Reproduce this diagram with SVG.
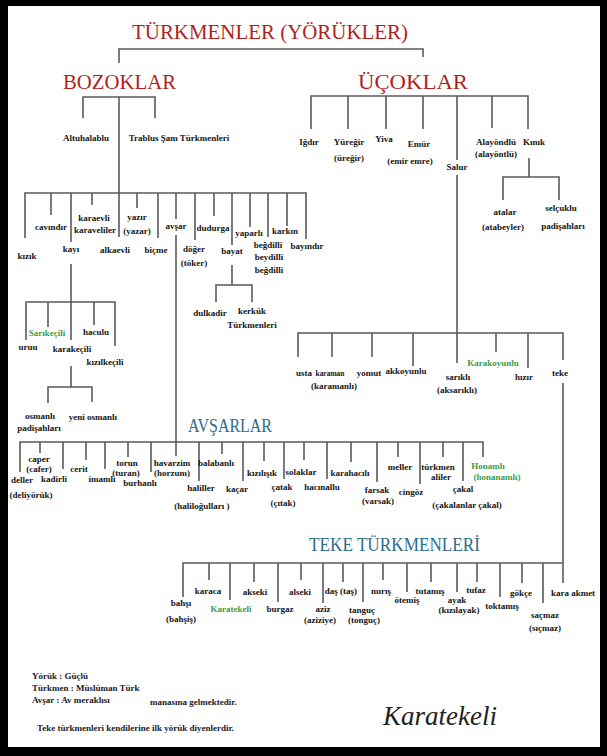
<svg xmlns="http://www.w3.org/2000/svg" width="607" height="756" viewBox="0 0 607 756">
<style>
.t{font-family:"Liberation Serif","Times New Roman",serif;font-weight:bold;font-size:9px;fill:#151515;text-anchor:middle}
.g{fill:#3d9b47}
.h1{font-family:"Liberation Serif","Times New Roman",serif;fill:#b11f1d;text-anchor:middle}
.h2{font-family:"Liberation Serif","Times New Roman",serif;fill:#2d6c8a;text-anchor:middle}
.n{font-family:"Liberation Serif","Times New Roman",serif;font-weight:bold;font-size:9px;fill:#1a1a2a}
.c path{fill:none;stroke:#5a5a5a;stroke-width:1.6}
</style>
<rect x="0" y="0" width="607" height="756" fill="#000"/>
<rect x="8" y="6" width="592" height="741" fill="#fff"/>

<g class="c" id="connectors">
<path d="M119,63 V49 H423 V57"/>
<path d="M83,118 V97 H155 V118"/>
<path d="M119,97 V237"/>
<path d="M311,129 V96 H528 V129 M348,96 V129 M386,96 V129 M423,96 V129 M457,96 V160 M492,96 V128"/>
<path d="M457,175 V363"/>
<path d="M529,158 V177 M503,200 V177 H559 V200"/>
<path d="M25,238 V193 H306 V239 M51,193 V215 M71,193 V242 M92,193 V205 M137,193 V208 M158,193 V238 M176,193 V219 M195,193 V240 M214,193 V216 M232,193 V245 M250,193 V227 M268,193 V237 M287,193 V226"/>
<path d="M176,235 V456"/>
<path d="M71,264 V340 M26,340 V302 H115 V346 M48,302 V327 M94,302 V325"/>
<path d="M71,366 V387 M48,403 V387 H92 V402"/>
<path d="M232,265 V285 M216,302 V285 H252 V302"/>
<path d="M298,357 V333 H563 V360 M332,333 V357 M372,333 V357 M413,333 V366 M496,333 V352 M528,333 V368"/>
<path d="M563,383 V583"/>
<path d="M20,472 V442 H483 V457 M40,442 V453 M63,442 V469 M86,442 V460 M105,442 V469 M128,442 V457 M151,442 V472 M199,442 V481 M222,442 V454 M243,442 V481 M264,442 V461 M284,442 V479 M304,442 V460 M327,442 V479 M351,442 V462 M377,442 V482 M398,442 V457 M420,442 V484 M443,442 V457 M463,442 V481"/>
<path d="M183,597 V563 H563 M209,563 V580 M230,563 V600 M254,563 V582 M278,563 V602 M301,563 V580 M323,563 V603 M343,563 V582 M363,563 V602 M383,563 V580 M407,563 V592 M431,563 V582 M457,563 V592 M477,563 V582 M500,563 V597 M522,563 V583 M543,563 V603"/>
</g>

<g id="root"><text class="h1" x="270" y="39" font-size="22" textLength="276" lengthAdjust="spacingAndGlyphs">TÜRKMENLER (YÖRÜKLER)</text></g>
<g id="bozoklar"><text class="h1" x="119.5" y="89" font-size="21" textLength="113" lengthAdjust="spacingAndGlyphs">BOZOKLAR</text></g>
<g id="ucoklar"><text class="h1" x="413" y="89" font-size="21" textLength="110" lengthAdjust="spacingAndGlyphs">ÜÇOKLAR</text></g>

<g id="altuhalablu"><text class="t" x="86" y="141">Altuhalablu</text></g>
<g id="trablus"><text class="t" x="179" y="141">Trablus Şam Türkmenleri</text></g>

<g id="kizik"><text class="t" x="27" y="259">kızık</text></g>
<g id="cavindir"><text class="t" x="51" y="230">cavındır</text></g>
<g id="kayi"><text class="t" x="71" y="252">kayı</text></g>
<g id="karaevli"><text class="t" x="94" y="221">karaevli</text><text class="t" x="95" y="233">karaveliler</text></g>
<g id="alkaevli"><text class="t" x="115" y="253">alkaevli</text></g>
<g id="yazir"><text class="t" x="137" y="220">yazır</text><text class="t" x="137" y="234">(yazar)</text></g>
<g id="bicme"><text class="t" x="156" y="253">biçme</text></g>
<g id="avsar"><text class="t" x="176" y="229">avşar</text></g>
<g id="doger"><text class="t" x="194" y="252">döğer</text><text class="t" x="194" y="266">(töker)</text></g>
<g id="dudurga"><text class="t" x="213" y="231">dudurga</text></g>
<g id="bayat"><text class="t" x="232" y="254">bayat</text></g>
<g id="yaparli"><text class="t" x="249" y="236">yaparlı</text></g>
<g id="begdilli"><text class="t" x="268" y="248">beğdilli</text><text class="t" x="269" y="260">beydilli</text><text class="t" x="269" y="273">beğdilli</text></g>
<g id="karkin"><text class="t" x="285" y="234">karkın</text></g>
<g id="bayindir"><text class="t" x="307" y="249">bayındır</text></g>

<g id="uruu"><text class="t" x="28" y="350">uruu</text></g>
<g id="sarikecili"><text class="t g" x="47" y="336">Sarıkeçili</text></g>
<g id="karakecili"><text class="t" x="72" y="352">karakeçili</text></g>
<g id="haculu"><text class="t" x="96" y="335">haculu</text></g>
<g id="kizilkecili"><text class="t" x="105" y="365">kızılkeçili</text></g>
<g id="osmanli"><text class="t" x="40" y="419">osmanlı</text><text class="t" x="39" y="431">padişahları</text></g>
<g id="yeniosmanli"><text class="t" x="93" y="420">yeni osmanlı</text></g>

<g id="dulkadir"><text class="t" x="210" y="316">dulkadir</text></g>
<g id="kerkuk"><text class="t" x="252" y="314">kerkük</text><text class="t" x="252" y="328">Türkmenleri</text></g>

<g id="igdir"><text class="t" x="309" y="145">Iğdır</text></g>
<g id="yuregir"><text class="t" x="349" y="145">Yüreğir</text><text class="t" x="349" y="161">(üreğir)</text></g>
<g id="yiva"><text class="t" x="384" y="142">Yiva</text></g>
<g id="emur"><text class="t" x="419" y="147">Emür</text><text class="t" x="410" y="164">(emir emre)</text></g>
<g id="salur"><text class="t" x="457" y="170">Salur</text></g>
<g id="alayondlu"><text class="t" x="496" y="145">Alayöndlü</text><text class="t" x="496" y="157">(alayöntlü)</text></g>
<g id="kinik"><text class="t" x="534" y="145">Kınık</text></g>
<g id="atalar"><text class="t" x="505" y="215">atalar</text><text class="t" x="503" y="230">(atabeyler)</text></g>
<g id="selcuklu"><text class="t" x="561" y="211">selçuklu</text><text class="t" x="563" y="229">padişahları</text></g>

<g id="usta"><text class="t" x="304" y="376">usta</text></g>
<g id="karaman"><text class="t" x="330" y="376" textLength="29" lengthAdjust="spacingAndGlyphs">karaman</text><text class="t" x="334" y="389">(karamanlı)</text></g>
<g id="yomut"><text class="t" x="369" y="376">yomut</text></g>
<g id="akkoyunlu"><text class="t" x="406" y="374">akkoyunlu</text></g>
<g id="sarikli"><text class="t" x="458" y="380">sarıklı</text><text class="t" x="457" y="393">(aksarıklı)</text></g>
<g id="karakoyunlu"><text class="t g" x="493" y="366">Karakoyunlu</text></g>
<g id="hizir"><text class="t" x="524" y="380">hızır</text></g>
<g id="teke"><text class="t" x="560" y="376">teke</text></g>

<g id="avsarlar"><text class="h2" x="230" y="432" font-size="19" textLength="84" lengthAdjust="spacingAndGlyphs">AVŞARLAR</text></g>
<g id="deller"><text class="t" x="22" y="483">deller</text><text class="t" x="31" y="498">(deliyörük)</text></g>
<g id="caper"><text class="t" x="39" y="462">caper</text><text class="t" x="39" y="472">(cafer)</text></g>
<g id="kadirli"><text class="t" x="54" y="482">kadirli</text></g>
<g id="cerit"><text class="t" x="79" y="472">cerit</text></g>
<g id="imamli"><text class="t" x="102" y="482">imamlı</text></g>
<g id="torun"><text class="t" x="127" y="466">torun</text><text class="t" x="126" y="476">(turan)</text></g>
<g id="burhanli"><text class="t" x="140" y="486">burhanlı</text></g>
<g id="havarzim"><text class="t" x="172" y="466">havarzim</text><text class="t" x="172" y="476">(horzum)</text></g>
<g id="haliller"><text class="t" x="201" y="491">haliller</text><text class="t" x="202" y="509">(haliloğulları )</text></g>
<g id="balabanli"><text class="t" x="216" y="466">balabanlı</text></g>
<g id="kacar"><text class="t" x="237" y="492">kaçar</text></g>
<g id="kizilisik"><text class="t" x="262" y="476">kızılışık</text></g>
<g id="catak"><text class="t" x="282" y="490">çatak</text><text class="t" x="283" y="506">(çıtak)</text></g>
<g id="solaklar"><text class="t" x="301" y="475">solaklar</text></g>
<g id="hacinallu"><text class="t" x="322" y="490">hacınallu</text></g>
<g id="karahacili"><text class="t" x="350" y="476">karahacılı</text></g>
<g id="farsak"><text class="t" x="377" y="493">farsak</text><text class="t" x="378" y="504">(varsak)</text></g>
<g id="meller"><text class="t" x="400" y="470">meller</text></g>
<g id="cingoz"><text class="t" x="411" y="495">cingöz</text></g>
<g id="turkmenaliler"><text class="t" x="438" y="470">türkmen</text><text class="t" x="441" y="480">aliler</text></g>
<g id="cakal"><text class="t" x="463" y="492">çakal</text><text class="t" x="467" y="508">(çakalanlar çakal)</text></g>
<g id="honamli"><text class="t g" x="488" y="469">Honamlı</text><text class="t g" x="497" y="480">(honanamlı)</text></g>

<g id="teketurkmenleri"><text class="h2" x="394.5" y="551" font-size="18" textLength="171" lengthAdjust="spacingAndGlyphs">TEKE TÜRKMENLERİ</text></g>
<g id="bahsi"><text class="t" x="181" y="606">bahşı</text><text class="t" x="181" y="622">(bahşiş)</text></g>
<g id="karaca"><text class="t" x="208" y="594">karaca</text></g>
<g id="karatekeli"><text class="t g" x="231" y="612">Karatekeli</text></g>
<g id="akseki"><text class="t" x="255" y="595">akseki</text></g>
<g id="burgaz"><text class="t" x="280" y="612">burgaz</text></g>
<g id="alseki"><text class="t" x="300" y="595">alseki</text></g>
<g id="aziz"><text class="t" x="323" y="612">aziz</text><text class="t" x="320" y="623">(aziziye)</text></g>
<g id="das"><text class="t" x="341" y="594">daş (taş)</text></g>
<g id="tanguc"><text class="t" x="362" y="613">tanguç</text><text class="t" x="364" y="623">(tonguç)</text></g>
<g id="miris"><text class="t" x="381" y="594">mırış</text></g>
<g id="otemis"><text class="t" x="407" y="603">ötemiş</text></g>
<g id="tutamis"><text class="t" x="430" y="594">tutamış</text></g>
<g id="ayak"><text class="t" x="457" y="603">ayak</text><text class="t" x="459" y="613">(kızılayak)</text></g>
<g id="tufaz"><text class="t" x="476" y="593">tufaz</text></g>
<g id="toktamis"><text class="t" x="502" y="609">toktamış</text></g>
<g id="gokce"><text class="t" x="521" y="596">gökçe</text></g>
<g id="sacmaz"><text class="t" x="545" y="618">saçmaz</text><text class="t" x="545" y="631">(sıçmaz)</text></g>
<g id="karaakmet"><text class="t" x="573" y="596">kara akmet</text></g>

<g id="notes">
<text class="n" x="32" y="679">Yörük : Güçlü</text>
<text class="n" x="32" y="691">Türkmen : Müslüman Türk</text>
<text class="n" x="32" y="703">Avşar : Av meraklısı</text>
<text class="n" x="150" y="705">manasına gelmektedir.</text>
<text class="n" x="37" y="731">Teke türkmenleri kendilerine ilk yörük diyenlerdir.</text>
<text x="383" y="725" font-family="Liberation Serif, serif" font-style="italic" font-size="27" fill="#222">Karatekeli</text>
</g>
</svg>
